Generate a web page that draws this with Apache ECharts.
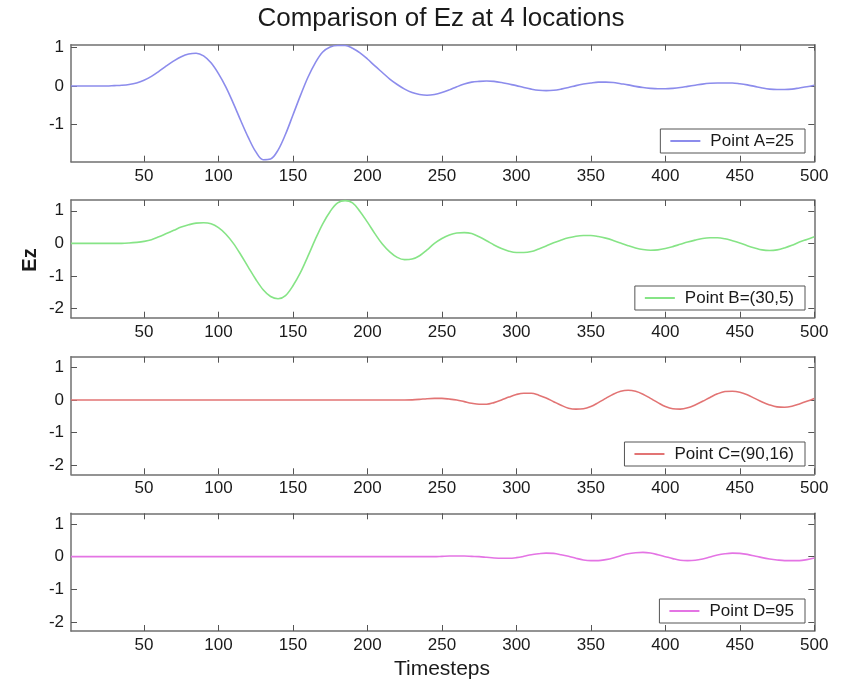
<!DOCTYPE html>
<html>
<head>
<meta charset="utf-8">
<script src="https://cdn.jsdelivr.net/npm/echarts@6/dist/echarts.min.js"></script>
<style>html,body{margin:0;padding:0;background:#fff;}#chart{width:846px;height:681px;}</style>
</head>
<body>
<div id="chart"></div>
<script>
// ---- data ----
const steps = [1,5,10,15,20,25,30,35,40,45,
  50,55,60,65,70,75,80,85,90,95,
  100,105,110,115,120,125,130,135,140,145,
  150,155,160,165,170,175,180,185,190,195,
  200,205,210,215,220,225,230,235,240,245,
  250,255,260,265,270,275,280,285,290,295,
  300,305,310,315,320,325,330,335,340,345,
  350,355,360,365,370,375,380,385,390,395,
  400,405,410,415,420,425,430,435,440,445,
  450,455,460,465,470,475,480,485,490,495,
  500];
const pointA = [0,0,0,0,0,0,0.01,0.02,0.04,0.08,
  0.15,0.25,0.38,0.52,0.65,0.76,0.83,0.85,0.78,0.6,
  0.32,-0.03,-0.45,-0.9,-1.33,-1.7,-1.91,-1.89,-1.66,-1.25,
  -0.75,-0.25,0.22,0.6,0.88,1.01,1.05,1.05,0.98,0.86,
  0.7,0.52,0.35,0.18,0.04,-0.08,-0.17,-0.22,-0.24,-0.22,
  -0.17,-0.1,-0.02,0.05,0.1,0.12,0.13,0.12,0.09,0.05,
  0.01,-0.04,-0.08,-0.11,-0.12,-0.11,-0.08,-0.04,0.01,0.05,
  0.08,0.1,0.1,0.09,0.06,0.03,-0.01,-0.04,-0.06,-0.07,
  -0.07,-0.06,-0.04,-0.01,0.02,0.05,0.07,0.08,0.08,0.08,
  0.06,0.03,-0.01,-0.05,-0.08,-0.09,-0.09,-0.08,-0.05,-0.02,
  0.02];
const pointB = [0,0,0,0,0,0,0,0,0.01,0.03,
  0.06,0.11,0.2,0.3,0.4,0.5,0.57,0.62,0.63,0.6,
  0.48,0.28,0.0,-0.35,-0.73,-1.1,-1.42,-1.63,-1.7,-1.6,
  -1.3,-0.9,-0.4,0.12,0.6,0.98,1.24,1.31,1.24,0.98,
  0.65,0.3,-0.02,-0.26,-0.43,-0.5,-0.48,-0.38,-0.2,0.0,
  0.15,0.26,0.32,0.33,0.3,0.2,0.08,-0.05,-0.16,-0.24,
  -0.28,-0.28,-0.25,-0.17,-0.08,0.02,0.1,0.17,0.22,0.24,
  0.24,0.21,0.16,0.09,0.01,-0.07,-0.14,-0.19,-0.21,-0.2,
  -0.16,-0.1,-0.03,0.04,0.1,0.15,0.17,0.17,0.14,0.08,
  0.01,-0.07,-0.14,-0.2,-0.22,-0.2,-0.14,-0.06,0.04,0.12,
  0.2];
const pointC = [0,0,0,0,0,0,0,0,0,0,
  0,0,0,0,0,0,0,0,0,0,
  0,0,0,0,0,0,0,0,0,0,
  0,0,0,0,0,0,0,0,0,0,
  0,0,0,0,0,0,0.005,0.02,0.04,0.05,
  0.05,0.03,0.0,-0.05,-0.1,-0.13,-0.13,-0.08,0.0,0.09,
  0.17,0.21,0.21,0.15,0.06,-0.05,-0.16,-0.25,-0.28,-0.27,
  -0.2,-0.08,0.05,0.18,0.27,0.3,0.27,0.18,0.05,-0.08,
  -0.2,-0.27,-0.28,-0.24,-0.15,-0.04,0.08,0.19,0.26,0.27,
  0.24,0.16,0.05,-0.06,-0.15,-0.21,-0.22,-0.19,-0.12,-0.04,
  0.05];
const pointD = [0,0,0,0,0,0,0,0,0,0,
  0,0,0,0,0,0,0,0,0,0,
  0,0,0,0,0,0,0,0,0,0,
  0,0,0,0,0,0,0,0,0,0,
  0,0,0,0,0,0,0,0,0,0,
  0.01,0.02,0.02,0.02,0.01,0.0,-0.02,-0.04,-0.05,-0.05,
  -0.03,0.01,0.06,0.09,0.11,0.1,0.06,0.01,-0.05,-0.1,
  -0.12,-0.12,-0.09,-0.04,0.03,0.09,0.12,0.13,0.11,0.06,
  0.0,-0.06,-0.11,-0.12,-0.11,-0.07,-0.01,0.05,0.09,0.11,
  0.1,0.07,0.02,-0.03,-0.07,-0.1,-0.12,-0.12,-0.12,-0.09,
  -0.04];
const seriesNames = ['Point A=25','Point B=(30,5)','Point C=(90,16)','Point D=95'];
const xTicks = [50,100,150,200,250,300,350,400,450,500];
const yTicksFirst = [-1,0,1];
const yTicksOther = [-2,-1,0,1];
const titleText = 'Comparison of Ez at 4 locations';
const xName = 'Timesteps';
const yName = 'Ez';

// ---- layout/style ----
const allData = [pointA, pointB, pointC, pointD];
const colors = ['#8c8cec', '#86e486', '#e27474', '#e474e4'];
const gridTops = [44.7, 200, 356.7, 513.3];
const gridHeights = [117, 117.7, 117.6, 117.7];
const yRanges = [[-1.96, 1.07], [-2.28, 1.33], [-2.28, 1.33], [-2.28, 1.33]];
const legendTops = [129, 286, 442, 599];
const FONT = 'Liberation Sans, Arial, sans-serif';
const axisColor = '#707070';

const grids = [], xAxes = [], yAxes = [], series = [], legends = [];
for (let g = 0; g < 4; g++) {
  grids.push({left: 71, width: 743.3, top: gridTops[g], height: gridHeights[g]});
  const yt = g === 0 ? yTicksFirst : yTicksOther;
  const lineStyle = {color: axisColor, width: 1.5};
  const tick = (vals) => ({show: true, inside: true, length: 6, customValues: vals, lineStyle: {color: '#555', width: 1}});
  xAxes.push({type: 'value', gridIndex: g, position: 'bottom', min: 1, max: 500,
    axisLine: {show: true, onZero: false, lineStyle},
    axisTick: tick(xTicks),
    axisLabel: {customValues: xTicks, color: '#1a1a1a', fontSize: 17, fontFamily: FONT, margin: 6},
    splitLine: {show: false}});
  xAxes.push({type: 'value', gridIndex: g, position: 'top', min: 1, max: 500,
    axisLine: {show: true, onZero: false, lineStyle},
    axisTick: tick(xTicks), axisLabel: {show: false}, splitLine: {show: false}});
  yAxes.push({type: 'value', gridIndex: g, position: 'left', min: yRanges[g][0], max: yRanges[g][1],
    axisLine: {show: true, onZero: false, lineStyle},
    axisTick: tick(yt),
    axisLabel: {customValues: yt, color: '#1a1a1a', fontSize: 17, fontFamily: FONT, margin: 7},
    splitLine: {show: false}});
  yAxes.push({type: 'value', gridIndex: g, position: 'right', min: yRanges[g][0], max: yRanges[g][1],
    axisLine: {show: true, onZero: false, lineStyle},
    axisTick: tick(yt), axisLabel: {show: false}, splitLine: {show: false}});
  series.push({type: 'line', name: seriesNames[g], xAxisIndex: 2 * g, yAxisIndex: 2 * g,
    data: steps.map((s, i) => [s, allData[g][i]]),
    smooth: 0.35, symbol: 'none', showSymbol: false, clip: true,
    lineStyle: {color: colors[g], width: 1.6}, itemStyle: {color: colors[g]}});
  legends.push({data: [seriesNames[g]], right: 41, top: legendTops[g], orient: 'horizontal',
    backgroundColor: '#fff', borderColor: '#555', borderWidth: 1, borderRadius: 0,
    padding: [3, 11, 3, 10], icon: 'rect', itemWidth: 30, itemHeight: 2,
    textStyle: {color: '#1a1a1a', fontSize: 17, fontFamily: FONT, lineHeight: 18, padding: [0, 0, 0, 5]},
    selectedMode: false});
}

const chart = echarts.init(document.getElementById('chart'), null, {renderer: 'canvas'});
chart.setOption({
  animation: false,
  backgroundColor: '#fff',
  grid: grids, xAxis: xAxes, yAxis: yAxes, series, legend: legends,
  graphic: [
    {type: 'text', x: 441, y: 19, style: {text: titleText, fontSize: 26, fontFamily: FONT, fill: '#1a1a1a', textAlign: 'center', textVerticalAlign: 'middle'}},
    {type: 'text', x: 442, y: 669, style: {text: xName, fontSize: 21, fontFamily: FONT, fill: '#1a1a1a', textAlign: 'center', textVerticalAlign: 'middle'}},
    {type: 'text', x: 30, y: 260, rotation: Math.PI / 2, style: {text: yName, fontSize: 20, fontWeight: 'bold', fontFamily: FONT, fill: '#1a1a1a', textAlign: 'center', textVerticalAlign: 'middle'}}
  ]
});
</script>
</body>
</html>
